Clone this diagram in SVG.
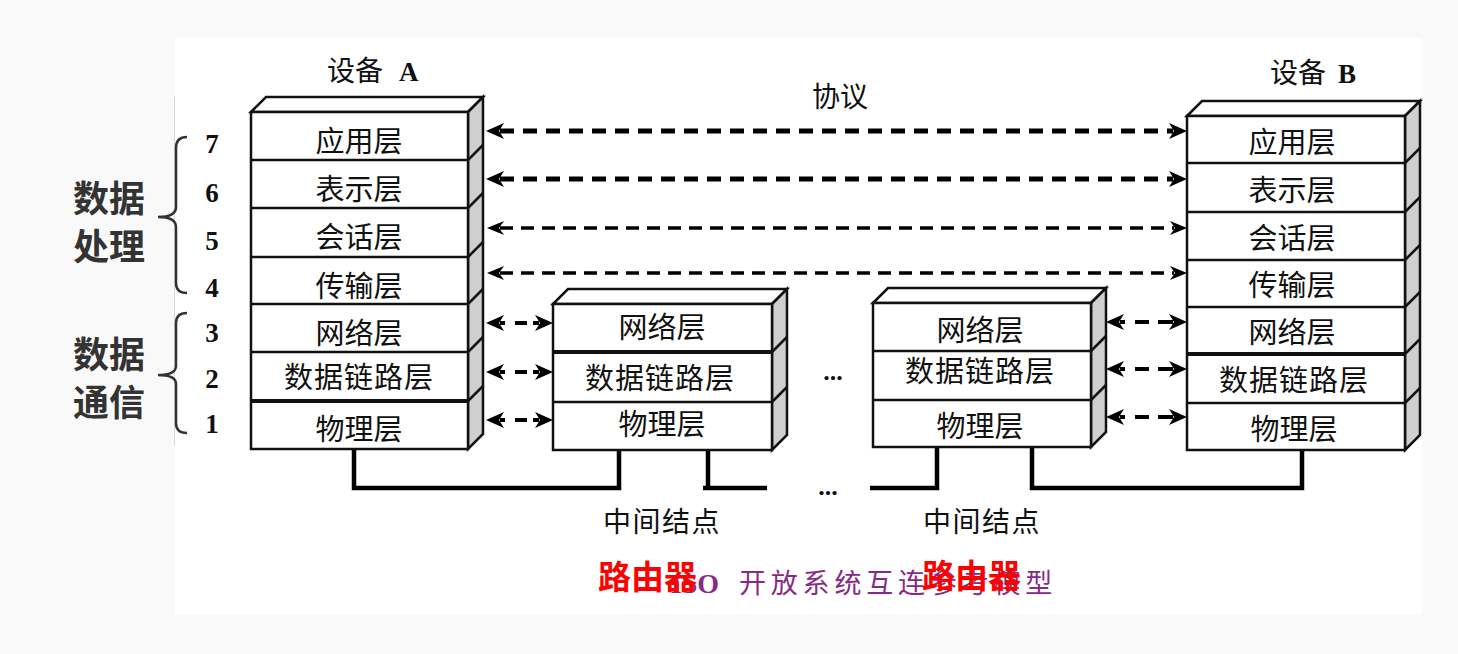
<svg xmlns="http://www.w3.org/2000/svg" width="1458" height="654" viewBox="0 0 1458 654">
<style>
.face{fill:#fff;stroke:#111;stroke-width:2.5;stroke-linejoin:miter}
.side{fill:#cfcfcf;stroke:#111;stroke-width:2.5}
.div{stroke:#111;stroke-width:2.5}
.divb{stroke:#111;stroke-width:4}
.lay{font-family:"Noto Sans CJK SC","Noto Sans",sans-serif;font-size:29px;text-anchor:middle;fill:#111}
.num{font-family:"Liberation Serif",serif;font-weight:bold;font-size:27px;text-anchor:middle;fill:#111}
.cj{font-family:"Noto Sans CJK SC",sans-serif;font-size:28px;fill:#111}
.big{font-family:"Noto Sans CJK SC",sans-serif;font-weight:bold;font-size:36px;fill:#333;text-anchor:middle}
.red{font-family:"Noto Sans CJK SC",sans-serif;font-weight:bold;font-size:33px;fill:#ff0000}
.heavy{stroke:#000;stroke-width:5;stroke-dasharray:14 9;fill:none}
.light{stroke:#000;stroke-width:3.5;stroke-dasharray:13 8;fill:none}
.short{stroke:#000;stroke-width:4;fill:none}
.wire{stroke:#000;stroke-width:4.5;fill:none}
.brace{stroke:#333;stroke-width:2.5;fill:none}
</style>
<defs>
<marker id="ah" markerUnits="userSpaceOnUse" orient="auto-start-reverse" refX="0" refY="0" markerWidth="40" markerHeight="40" overflow="visible"><path d="M14,0 L-4,-8 L1,0 L-4,8 Z" fill="#000"/></marker>
<marker id="al" markerUnits="userSpaceOnUse" orient="auto-start-reverse" refX="0" refY="0" markerWidth="40" markerHeight="40" overflow="visible"><path d="M13,0 L-4,-7 L1,0 L-4,7 Z" fill="#000"/></marker>
</defs>
<rect width="1458" height="654" fill="#f9f9f9"/>
<rect x="175" y="38" width="1247" height="577" fill="#fff"/>
<line x1="174.5" y1="97" x2="174.5" y2="445" stroke="#d6d6d6" stroke-width="1"/>

<g id="left-labels">
<path class="brace" d="M187,137 Q176,137 176,148 L176,207 Q176,217 158,217 Q176,217 176,227 L176,283 Q176,293 187,293"/>
<path class="brace" d="M187,313 Q176,313 176,323 L176,366 Q176,375 158,375 Q176,375 176,384 L176,423 Q176,433 187,433"/>
<text class="big" x="109" y="212">数据</text>
<text class="big" x="109" y="260">处理</text>
<text class="big" x="109" y="368">数据</text>
<text class="big" x="109" y="416">通信</text>
<text class="num" x="212" y="153">7</text>
<text class="num" x="212" y="202">6</text>
<text class="num" x="212" y="250">5</text>
<text class="num" x="212" y="297">4</text>
<text class="num" x="212" y="342">3</text>
<text class="num" x="212" y="388">2</text>
<text class="num" x="212" y="433">1</text>
</g>

<g id="deviceA">
<text class="cj" x="327" y="81">设备</text>
<text x="399" y="81" font-family="Liberation Serif,serif" font-weight="bold" font-size="27" fill="#111">A</text>
<polygon class="face" points="251,112 266,97 483,97 468,112"/>
<polygon class="side" points="468,112 483,97 483,434 468,449"/>
<rect class="face" x="251" y="112" width="217" height="337"/>
<g class="div">
<line x1="251" y1="160" x2="468" y2="160"/><line x1="468" y1="160" x2="483" y2="145"/>
<line x1="251" y1="208" x2="468" y2="208"/><line x1="468" y1="208" x2="483" y2="193"/>
<line x1="251" y1="257" x2="468" y2="257"/><line x1="468" y1="257" x2="483" y2="242"/>
<line x1="251" y1="304" x2="468" y2="304"/><line x1="468" y1="304" x2="483" y2="289"/>
<line x1="251" y1="352" x2="468" y2="352"/><line x1="468" y1="352" x2="483" y2="337"/>
<line x1="468" y1="401" x2="483" y2="386"/>
</g>
<line class="divb" x1="251" y1="401" x2="468" y2="401"/>
<text class="lay" x="359" y="152">应用层</text>
<text class="lay" x="359" y="200">表示层</text>
<text class="lay" x="359" y="248">会话层</text>
<text class="lay" x="359" y="297">传输层</text>
<text class="lay" x="359" y="344">网络层</text>
<text class="lay" x="359" y="388" letter-spacing="1">数据链路层</text>
<text class="lay" x="359" y="440">物理层</text>
</g>

<g id="router1">
<polygon class="face" points="553,304 568,289 787,289 772,304"/>
<polygon class="side" points="772,304 787,289 787,435 772,450"/>
<rect class="face" x="553" y="304" width="219" height="146"/>
<line class="divb" x1="553" y1="352" x2="772" y2="352"/>
<g class="div">
<line x1="772" y1="352" x2="787" y2="337"/>
<line x1="553" y1="402" x2="772" y2="402"/><line x1="772" y1="402" x2="787" y2="387"/>
</g>
<text class="lay" x="662" y="338">网络层</text>
<text class="lay" x="660" y="389" letter-spacing="1">数据链路层</text>
<text class="lay" x="662" y="435">物理层</text>
</g>

<g id="router2">
<polygon class="face" points="873,303 888,288 1106,288 1091,303"/>
<polygon class="side" points="1091,303 1106,288 1106,432 1091,447"/>
<rect class="face" x="873" y="303" width="218" height="144"/>
<g class="div">
<line x1="873" y1="351" x2="1091" y2="351"/><line x1="1091" y1="351" x2="1106" y2="336"/>
<line x1="873" y1="400" x2="1091" y2="400"/><line x1="1091" y1="400" x2="1106" y2="385"/>
</g>
<text class="lay" x="980" y="341">网络层</text>
<text class="lay" x="980" y="382" letter-spacing="1">数据链路层</text>
<text class="lay" x="980" y="437">物理层</text>
</g>

<g id="deviceB">
<text class="cj" x="1270" y="83">设备</text>
<text x="1338" y="83" font-family="Liberation Serif,serif" font-weight="bold" font-size="27" fill="#111">B</text>
<polygon class="face" points="1187,116 1202,101 1420,101 1405,116"/>
<polygon class="side" points="1405,116 1420,101 1420,435 1405,450"/>
<rect class="face" x="1187" y="116" width="218" height="334"/>
<g class="div">
<line x1="1187" y1="163" x2="1405" y2="163"/><line x1="1405" y1="163" x2="1420" y2="148"/>
<line x1="1187" y1="212" x2="1405" y2="212"/><line x1="1405" y1="212" x2="1420" y2="197"/>
<line x1="1187" y1="260" x2="1405" y2="260"/><line x1="1405" y1="260" x2="1420" y2="245"/>
<line x1="1187" y1="307" x2="1405" y2="307"/><line x1="1405" y1="307" x2="1420" y2="292"/>
<line x1="1405" y1="354" x2="1420" y2="339"/>
<line x1="1187" y1="403" x2="1405" y2="403"/><line x1="1405" y1="403" x2="1420" y2="388"/>
</g>
<line class="divb" x1="1187" y1="354" x2="1405" y2="354"/>
<text class="lay" x="1292" y="153">应用层</text>
<text class="lay" x="1292" y="201">表示层</text>
<text class="lay" x="1292" y="249">会话层</text>
<text class="lay" x="1292" y="296">传输层</text>
<text class="lay" x="1292" y="343">网络层</text>
<text class="lay" x="1294" y="391" letter-spacing="1">数据链路层</text>
<text class="lay" x="1294" y="440">物理层</text>
</g>

<g id="connectors">
<line class="heavy" x1="500" y1="131" x2="1173" y2="131" marker-start="url(#ah)" marker-end="url(#ah)"/>
<line class="heavy" x1="500" y1="179" x2="1173" y2="179" marker-start="url(#ah)" marker-end="url(#ah)"/>
<line class="light" x1="500" y1="228" x2="1174" y2="228" marker-start="url(#al)" marker-end="url(#al)"/>
<line class="light" x1="500" y1="273" x2="1174" y2="273" marker-start="url(#al)" marker-end="url(#al)"/>
<line class="short" x1="500" y1="323" x2="539" y2="323" stroke-dasharray="5 10 12 6 30" marker-start="url(#ah)" marker-end="url(#ah)"/>
<line class="short" x1="500" y1="372" x2="539" y2="372" stroke-dasharray="5 10 12 6 30" marker-start="url(#ah)" marker-end="url(#ah)"/>
<line class="short" x1="500" y1="420" x2="539" y2="420" stroke-dasharray="5 10 12 6 30" marker-start="url(#ah)" marker-end="url(#ah)"/>
<line class="short" x1="1120" y1="322" x2="1173" y2="322" stroke-dasharray="5 10 14 9 30" marker-start="url(#ah)" marker-end="url(#ah)"/>
<line class="short" x1="1120" y1="369" x2="1173" y2="369" stroke-dasharray="5 10 14 9 30" marker-start="url(#ah)" marker-end="url(#ah)"/>
<line class="short" x1="1120" y1="417" x2="1173" y2="417" stroke-dasharray="5 10 14 9 30" marker-start="url(#ah)" marker-end="url(#ah)"/>
<path class="wire" d="M354,450 V488 H619 V451"/>
<path class="wire" d="M708,451 V488 M703,488 H767"/>
<path class="wire" d="M870,488 H937 V448"/>
<path class="wire" d="M1032,448 V488 H1302 V451"/>
</g>

<g id="labels">
<text x="840" y="107" class="cj" text-anchor="middle">协议</text>
<text x="833" y="380" font-family="Liberation Serif,serif" font-weight="bold" font-size="26" text-anchor="middle" fill="#111">...</text>
<text x="828" y="495" font-family="Liberation Serif,serif" font-weight="bold" font-size="26" text-anchor="middle" fill="#111">...</text>
<text x="603" y="532" class="cj" font-size="30" letter-spacing="1.5">中间结点</text>
<text x="923" y="532" class="cj" font-size="30" letter-spacing="1.5">中间结点</text>
<text x="719" y="593" font-family="Liberation Serif,serif" font-weight="bold" font-size="28" fill="#862a86" text-anchor="end">ISO</text>
<text x="739" y="593" font-family="Noto Sans CJK SC,sans-serif" font-size="27" fill="#862a86" letter-spacing="4.8">开放系统互连参考模型</text>
<text class="red" x="598" y="589">路由器</text>
<text class="red" x="922" y="588">路由器</text>
</g>
</svg>
